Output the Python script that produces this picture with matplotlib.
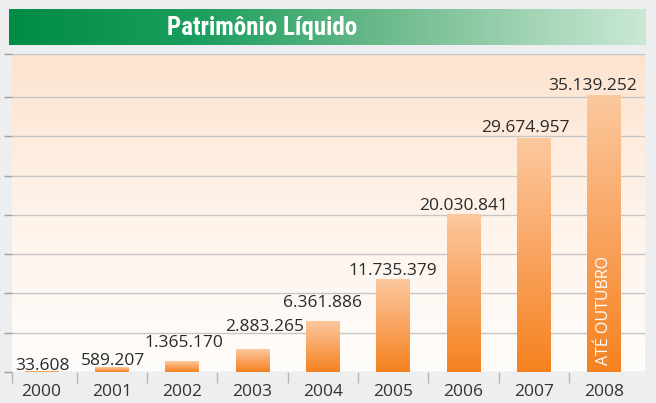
import numpy as np
import matplotlib.pyplot as plt
from matplotlib.colors import LinearSegmentedColormap

anos = ['2000', '2001', '2002', '2003', '2004', '2005', '2006', '2007', '2008']
patrimonio = [33608, 589207, 1365170, 2883265, 6361886, 11735379, 20030841, 29674957, 35139252]
rotulos = ['33.608', '589.207', '1.365.170', '2.883.265', '6.361.886',
           '11.735.379', '20.030.841', '29.674.957', '35.139.252']
nota_2008 = 'ATÉ OUTUBRO'

# deslocamento dos rotulos em pontos (como no original)
desloc = [(1, 1.5), (1, 2), (1, 10), (9, 13), (0, 11), (0, 3.5), (0, 3.5), (-6, 5), (-8, 4.5)]

W, H = 656, 403
fig = plt.figure(figsize=(W / 100, H / 100), dpi=100, facecolor='#eceef0')

# faixa do titulo
ban = fig.add_axes([9 / W, 1 - 45 / H, 637 / W, 36 / H])
verde = LinearSegmentedColormap.from_list(
    'verde', [(0, '#008c44'), (0.3, '#1c9e5e'), (0.6, '#6fbb8d'), (1, '#cbe8d5')])
ban.imshow(np.linspace(0, 1, 256).reshape(1, -1), cmap=verde, aspect='auto',
           extent=[0, 1, 0, 1])
ban.set_xlim(0, 1)
ban.set_ylim(0, 1)
ban.set_axis_off()
ban.text((262 - 9) / 637, 0.47, 'Patrimônio Líquido', ha='center', va='center',
         color='white', fontsize=18, fontweight='bold', fontstretch='condensed',
         family=['DejaVu Sans Condensed', 'Liberation Sans Narrow', 'Roboto Condensed',
                 'Roboto', 'DejaVu Sans'])

# grafico
ax = fig.add_axes([12 / W, 31 / H, 633 / W, 318 / H])
fundo = LinearSegmentedColormap.from_list('fundo', ['#fffdfb', '#fef3ea', '#fde3cf'])
ax.imshow(np.linspace(0, 1, 256).reshape(-1, 1), cmap=fundo, aspect='auto',
          extent=[0, 1, 0, 1], origin='lower', transform=ax.transAxes, zorder=0)

laranja = LinearSegmentedColormap.from_list('laranja', ['#f5821f', '#f9a460', '#fcc89e'])
x = np.arange(len(anos))
barras = ax.bar(x, patrimonio, width=0.48, color='none', zorder=2)
for b in barras:
    ax.imshow(np.linspace(0, 1, 128).reshape(-1, 1), cmap=laranja, aspect='auto',
              origin='lower', zorder=2,
              extent=[b.get_x(), b.get_x() + b.get_width(), 0, b.get_height()])

for i, (v, r) in enumerate(zip(patrimonio, rotulos)):
    ax.annotate(r, (x[i], v), xytext=desloc[i], textcoords='offset points',
                ha='center', va='baseline', fontsize=12.5, family='Open Sans',
                color='#2a2a2a', zorder=3)

ax.annotate(nota_2008, (x[-1], 0), xytext=(0, 5), textcoords='offset points',
            rotation=90, ha='center', va='bottom', fontsize=11.5,
            family='Open Sans', color='white', zorder=3)

topo = 40.46e6
ax.set_xlim(-0.42, 8.58)
ax.set_ylim(0, topo)
ax.set_yticks(list(np.arange(0, 35e6 + 1, 5e6)) + [topo])
ax.set_yticklabels([])
ax.yaxis.grid(True, color='#c6c6c6', lw=1)
ax.set_axisbelow(True)

ax.set_xticks(x)
ax.set_xticklabels(anos, fontsize=12.5, family='Open Sans', color='#333333')
ax.set_xticks([-0.42] + list(np.arange(0.5, 8)), minor=True)
ax.tick_params(axis='x', which='major', length=0, pad=9)
ax.tick_params(axis='x', which='minor', length=8, color='#b5b5b5', width=1)
ax.tick_params(axis='y', length=6, color='#a0a0a0', width=1, pad=4)

for s in ax.spines.values():
    s.set_visible(False)

fig.savefig('out.png', dpi=100, facecolor=fig.get_facecolor())
